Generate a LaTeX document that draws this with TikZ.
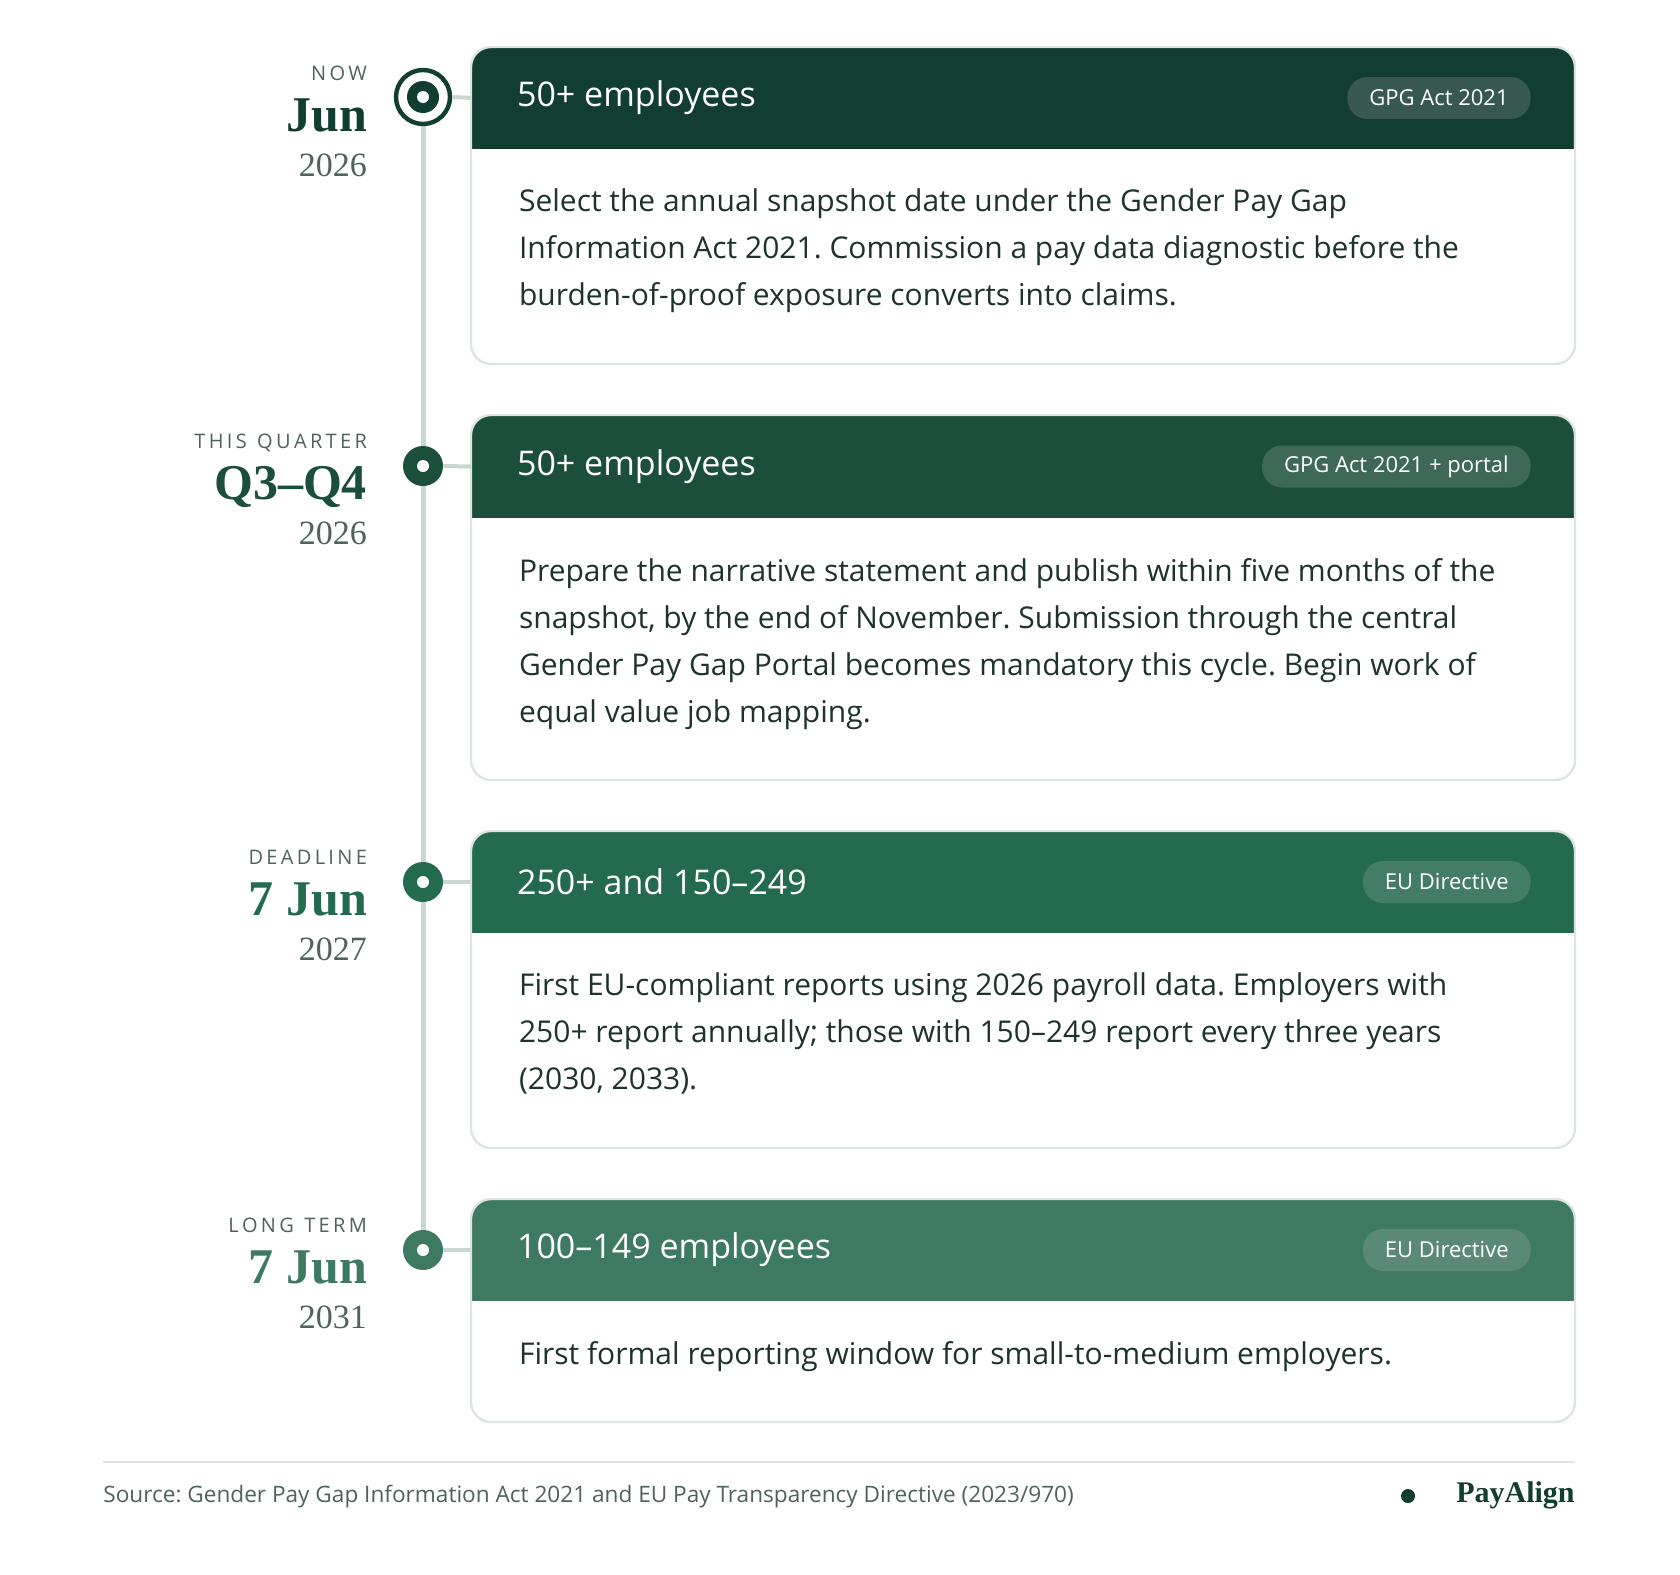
\documentclass[tikz,border=0pt]{standalone}
\usepackage{fontspec}
\setmainfont{Liberation Serif}
\setsansfont{Open Sans}
\newfontfamily\labelfont{Liberation Serif}
\usetikzlibrary{positioning}
\frenchspacing
\hyphenpenalty=10000

\definecolor{gOne}{HTML}{123D31}
\definecolor{gTwo}{HTML}{1B4F3C}
\definecolor{gThree}{HTML}{236A4E}
\definecolor{gFour}{HTML}{3E7A62}
\definecolor{rail}{HTML}{C8D8D0}
\definecolor{edge}{HTML}{DCE5E0}
\definecolor{inktext}{HTML}{1E332B}
\definecolor{greytext}{HTML}{4E6359}

\tikzset{
  headtext/.style={anchor=west, text=white, font=\sffamily\fontsize{17}{19}\selectfont},
  pill/.style={anchor=east, fill=white!80!black, fill opacity=0.2, text opacity=1, text=white,
    rounded corners=10pt, minimum height=21pt, inner xsep=11pt, font=\sffamily\fontsize{11}{12}\selectfont},
  bodytext/.style={anchor=north west, align=left, text=inktext,
    font=\sffamily\fontsize{15}{23.5}\selectfont},
  kicker/.style={anchor=base east, text=greytext, font=\sffamily\fontsize{10}{12}\selectfont},
  bigdate/.style={anchor=base east, font=\labelfont\bfseries\fontsize{25}{28}\selectfont},
  year/.style={anchor=base east, text=greytext, font=\labelfont\fontsize{17}{18}\selectfont},
}

% one stage: name, header top, header bottom, box bottom, colour, title, tag, body
\newcommand{\stagebox}[8]{
  \begin{scope}
    \clip[rounded corners=10pt] (471,#2) rectangle (1575,#4);
    \fill[#5] (471,#2) rectangle (1575,#3);
  \end{scope}
  \draw[edge, line width=1.2pt, rounded corners=10pt] (471,#2) rectangle (1575,#4);
  \node[headtext] (#1head) at (510,{(#2+#3)/2}) {#6};
  \node[pill] (#1tag) at (1531,{(#2+#3)/2}) {#7};
  \node[bodytext] (#1body) at (512,{#3+33}) {#8};
  \coordinate (#1in) at (471,{(#2+#3)/2});
}

\begin{document}
\begin{tikzpicture}[x=0.5pt, y=-0.5pt]
  \useasboundingbox[fill=white] (0,0) rectangle (1680,1574);

  % timeline rail
  \coordinate (railtop) at (423,97);
  \coordinate (railbot) at (423,1250);
  \draw[rail, line width=2.5pt] (railtop) -- (railbot);

  \stagebox{s1}{47}{149}{364}{gOne}{50+ employees}{GPG Act 2021}
    {Select the annual snapshot date under the Gender Pay Gap\\ Information Act 2021. Commission a pay data diagnostic before the\\ burden-of-proof exposure converts into claims.}
  \stagebox{s2}{415}{518}{780}{gTwo}{50+ employees}{GPG Act 2021 + portal}
    {Prepare the narrative statement and publish within five months of the\\ snapshot, by the end of November. Submission through the central\\ Gender Pay Gap Portal becomes mandatory this cycle. Begin work of\\ equal value job mapping.}
  \stagebox{s3}{831}{933}{1148}{gThree}{250+ and 150–249}{EU Directive}
    {First EU-compliant reports using 2026 payroll data. Employers with\\ 250+ report annually; those with 150–249 report every three years\\ (2030, 2033).}
  \stagebox{s4}{1199}{1301}{1422}{gFour}{100–149 employees}{EU Directive}
    {First formal reporting window for small-to-medium employers.}

  % markers
  \node[circle, draw=gOne, line width=2.2pt, fill=white, minimum size=27pt, inner sep=0pt] (m1) at (423,97) {};
  \draw[rail, line width=2pt] (m1.east) -- (s1in);
  \fill[gOne] (m1) circle (16);
  \fill[white] (m1) circle (6);
  \foreach \n/\y/\c in {2/466/gTwo, 3/882/gThree, 4/1250/gFour}{
    \node[circle, fill=\c, minimum size=20pt, inner sep=0pt] (m\n) at (423,\y) {};
    \draw[rail, line width=2pt] (m\n.east) -- (s\n in);
    \fill[white] (m\n) circle (6);
  }

  % date labels
  \node[kicker] (k1) at (374,80) {N\,O\,W};
  \node[bigdate, text=gOne] (d1) at (374,131) {Jun};
  \node[year] (y1) at (374,176) {2026};
  \node[kicker] (k2) at (374,448) {T\,H\,I\,S\ \ Q\,U\,A\,R\,T\,E\,R};
  \node[bigdate, text=gTwo] (d2) at (374,499) {Q3–Q4};
  \node[year] (y2) at (374,544) {2026};
  \node[kicker] (k3) at (374,864) {D\,E\,A\,D\,L\,I\,N\,E};
  \node[bigdate, text=gThree] (d3) at (374,915) {7 Jun};
  \node[year] (y3) at (374,960) {2027};
  \node[kicker] (k4) at (374,1232) {L\,O\,N\,G\ \ T\,E\,R\,M};
  \node[bigdate, text=gFour] (d4) at (374,1283) {7 Jun};
  \node[year] (y4) at (374,1328) {2031};

  % footer
  \coordinate (footl) at (103,1462);
  \coordinate (footr) at (1575,1462);
  \draw[edge, line width=1.2pt] (footl) -- (footr);
  \node[anchor=base west, inner xsep=0pt, text=greytext, font=\sffamily\fontsize{11.3}{13}\selectfont] (src) at (103,1502)
    {Source: Gender Pay Gap Information Act 2021 and EU Pay Transparency Directive (2023/970)};
  \node[anchor=base east, inner xsep=0pt, text=gOne, font=\labelfont\bfseries\fontsize{15}{17}\selectfont] (brand) at (1575,1502) {PayAlign};
  \fill[gOne] (1408,1496) circle (7);
\end{tikzpicture}
\end{document}
